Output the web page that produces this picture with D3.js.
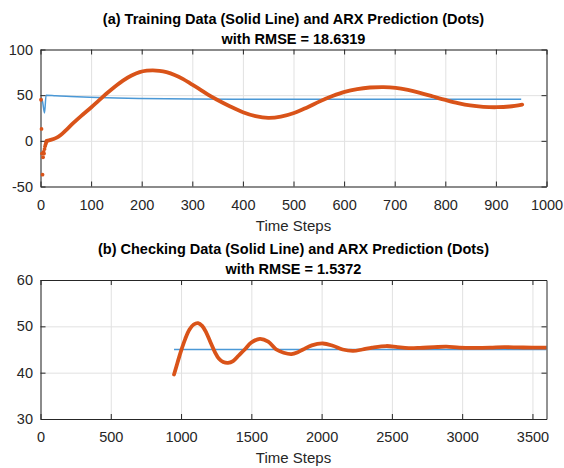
<!DOCTYPE html>
<html>
<head>
<meta charset="utf-8">
<script src="https://cdn.jsdelivr.net/npm/d3@7/dist/d3.min.js"></script>
<style>
  html, body { margin: 0; padding: 0; background: #fff; }
  svg { display: block; font-family: "Liberation Sans", Arial, sans-serif; }
</style>
</head>
<body>
<svg id="chart" width="564" height="468"></svg>
<script>
// ---------- DATA ----------
// (a) Training: measured data (solid line)
const trainDataX = [1, 4, 8, 11, 30, 60, 97, 150, 196, 300, 394, 500, 600, 700, 800, 950];
const trainDataY = [47, 43, 30.5, 50, 49.3, 48.6, 47.8, 47, 46.4, 45.8, 45.4, 45.4, 45.4, 45.4, 45.4, 45.4];
// (a) ARX prediction, initial transient dots
const trainPredStartX = [1, 2, 3, 4, 5, 6, 7, 8, 9, 10, 11, 12];
const trainPredStartY = [45, 13, -14, -37, -18, -12, -14, -9, -6, -4, -2, -1];
// (a) ARX prediction, smooth part
const trainPredX = [12, 20, 30, 40, 50, 64, 80, 100, 115, 130, 145, 163, 180, 196, 210, 222, 235, 249, 265, 282, 298, 315, 331, 348, 374, 400, 425, 450, 475, 501, 527, 552, 577, 601, 626, 651, 678, 702, 726, 750, 776, 802, 825, 849, 875, 902, 927, 952];
const trainPredY = [0, 1, 3, 6.5, 11.5, 19, 27, 36.5, 44, 51.5, 58.5, 66, 71.5, 75.2, 76.8, 77.2, 76.7, 75.2, 72.2, 67.6, 62.2, 56.4, 50.6, 45.3, 37.9, 31.4, 27.1, 25.1, 26.4, 30.4, 36.6, 43.2, 49, 53.6, 56.7, 58.4, 58.9, 58.1, 55.8, 52.6, 48.5, 44.5, 41.3, 38.7, 37.2, 36.8, 37.6, 39.7];
// (b) Checking: measured data (solid line)
const checkDataX = [950, 3600];
const checkDataY = [45, 45];
// (b) ARX prediction
const checkPredX = [950, 975, 1000, 1030, 1060, 1090, 1121, 1150, 1180, 1210, 1240, 1270, 1300, 1334, 1370, 1410, 1453, 1500, 1561, 1620, 1678, 1730, 1785, 1830, 1868, 1930, 2010, 2080, 2150, 2224, 2290, 2360, 2461, 2540, 2620, 2700, 2800, 2888, 2980, 3100, 3200, 3300, 3400, 3500, 3600];
const checkPredY = [39.6, 42.2, 44.7, 47.3, 49.3, 50.4, 50.7, 50.1, 48.6, 46.5, 44.5, 43.0, 42.3, 42.1, 42.5, 43.7, 45, 46.5, 47.3, 46.7, 45, 44.3, 44.0, 44.4, 45, 45.9, 46.3, 45.8, 45.0, 44.7, 45.0, 45.4, 45.75, 45.5, 45.3, 45.35, 45.5, 45.6, 45.4, 45.35, 45.4, 45.5, 45.45, 45.4, 45.4];

// Axis ticks and titles
const topXTicks = [0, 100, 200, 300, 400, 500, 600, 700, 800, 900, 1000];
const topYTicks = [-50, 0, 50, 100];
const botXTicks = [0, 500, 1000, 1500, 2000, 2500, 3000, 3500];
const botYTicks = [30, 40, 50, 60];
const topTitle = ["(a) Training Data (Solid Line) and ARX Prediction (Dots)", "with RMSE = 18.6319"];
const botTitle = ["(b) Checking Data (Solid Line) and ARX Prediction (Dots)", "with RMSE = 1.5372"];
const xLabel = "Time Steps";

// ---------- DRAW ----------
const svg = d3.select("#chart");
const BLUE = "#4a98d6", ORANGE = "#D95319", AX = "#262626", GRID = "#e1e1e1";
const TICKFONT = 14.5;
const fmt = d => String(d);

function panel(cfg) {
  const {left, right, top, bottom, xDomain, yDomain, xTicks, yTicks, title, lineX, lineY, predX, predY, dotX, dotY} = cfg;
  const x = d3.scaleLinear().domain(xDomain).range([left, right]);
  const y = d3.scaleLinear().domain(yDomain).range([bottom, top]);
  const g = svg.append("g");
  const W = right - left, H = bottom - top;

  // grid
  g.append("g").attr("transform", `translate(0,${bottom})`)
    .call(d3.axisBottom(x).tickValues(xTicks).tickSize(-H).tickFormat(""))
    .call(s => s.select(".domain").remove())
    .call(s => s.selectAll("line").attr("stroke", GRID));
  g.append("g").attr("transform", `translate(${left},0)`)
    .call(d3.axisLeft(y).tickValues(yTicks).tickSize(-W).tickFormat(""))
    .call(s => s.select(".domain").remove())
    .call(s => s.selectAll("line").attr("stroke", GRID));

  // clip
  const clipId = "clip" + Math.round(top);
  svg.append("defs").append("clipPath").attr("id", clipId)
    .append("rect").attr("x", left).attr("y", top).attr("width", W).attr("height", H);
  const plot = g.append("g").attr("clip-path", `url(#${clipId})`);

  // data line
  const lineData = lineX.map((v, i) => [v, lineY[i]]);
  plot.append("path").datum(lineData)
    .attr("fill", "none").attr("stroke", BLUE).attr("stroke-width", 1.5)
    .attr("d", d3.line().x(d => x(d[0])).y(d => y(d[1])).curve(d3.curveMonotoneX));

  // prediction (dense dots rendered as a thick trace)
  const predData = predX.map((v, i) => [v, predY[i]]);
  plot.append("path").datum(predData)
    .attr("fill", "none").attr("stroke", ORANGE).attr("stroke-width", 3.8)
    .attr("stroke-linecap", "round").attr("stroke-linejoin", "round")
    .attr("d", d3.line().x(d => x(d[0])).y(d => y(d[1])).curve(d3.curveCatmullRom.alpha(0.5)));

  // axes (ticks inward on all four sides)
  const axB = g.append("g").attr("transform", `translate(0,${bottom})`)
    .call(d3.axisBottom(x).tickValues(xTicks).tickSizeInner(-5).tickSizeOuter(0).tickPadding(13).tickFormat(fmt));
  const axL = g.append("g").attr("transform", `translate(${left},0)`)
    .call(d3.axisLeft(y).tickValues(yTicks).tickSizeInner(-5).tickSizeOuter(0).tickPadding(7.5).tickFormat(fmt));
  const axT = g.append("g").attr("transform", `translate(0,${top})`)
    .call(d3.axisTop(x).tickValues(xTicks).tickSizeInner(-5).tickSizeOuter(0).tickFormat(""));
  const axR = g.append("g").attr("transform", `translate(${right},0)`)
    .call(d3.axisRight(y).tickValues(yTicks).tickSizeInner(-5).tickSizeOuter(0).tickFormat(""));
  [axB, axL, axT, axR].forEach(a => {
    a.selectAll(".domain").attr("stroke", AX).attr("stroke-width", 1);
    a.selectAll(".tick line").attr("stroke", AX);
    a.selectAll("text").attr("fill", AX).style("font-size", TICKFONT + "px")
      .style("font-family", '"Liberation Sans", Arial, sans-serif');
  });

  // transient dots drawn on top (MATLAB markers are not clipped at the box)
  if (dotX) {
    g.selectAll("circle.dot").data(dotX.map((v, i) => [v, dotY[i]])).enter()
      .append("circle").attr("class", "dot")
      .attr("cx", d => x(d[0])).attr("cy", d => y(d[1])).attr("r", 1.9).attr("fill", ORANGE);
  }

  // x label
  g.append("text").attr("x", (left + right) / 2).attr("y", bottom + 44)
    .attr("text-anchor", "middle").attr("fill", AX)
    .style("font-size", "15px").text(xLabel);

  // title
  title.forEach((t, i) => {
    g.append("text").attr("x", (left + right) / 2).attr("y", top - 26 + i * 20)
      .attr("text-anchor", "middle").attr("fill", "#000")
      .style("font-size", "14.5px").style("font-weight", "bold").text(t);
  });
}

panel({left: 40.5, right: 546.5, top: 49.5, bottom: 186.5,
  xDomain: [0, 1000], yDomain: [-50, 100], xTicks: topXTicks, yTicks: topYTicks, title: topTitle,
  lineX: trainDataX, lineY: trainDataY, predX: trainPredX, predY: trainPredY,
  dotX: trainPredStartX, dotY: trainPredStartY});

panel({left: 40.5, right: 546.5, top: 280, bottom: 419,
  xDomain: [0, 3600], yDomain: [30, 60], xTicks: botXTicks, yTicks: botYTicks, title: botTitle,
  lineX: checkDataX, lineY: checkDataY, predX: checkPredX, predY: checkPredY});
</script>
</body>
</html>
